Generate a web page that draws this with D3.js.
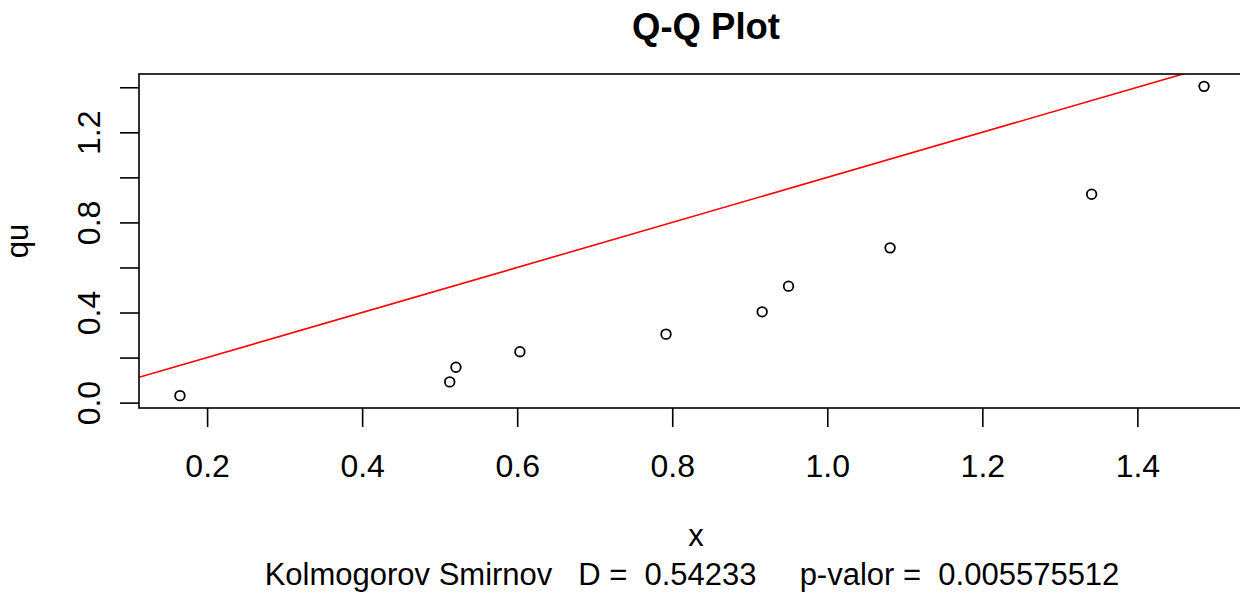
<!DOCTYPE html>
<html>
<head>
<meta charset="utf-8">
<script src="https://cdn.jsdelivr.net/npm/d3@7"></script>
<style>
  html, body { margin: 0; padding: 0; background: #fff; overflow: hidden; }
  svg { display: block; font-family: "Liberation Sans", Arial, sans-serif; }
</style>
</head>
<body>
<svg id="chart" width="1240" height="594"></svg>
<script>
// Sample quantiles (x) against theoretical quantiles (qu)
const xValues  = [0.165, 0.513, 0.521, 0.6035, 0.792, 0.916, 0.950, 1.081, 1.341, 1.486];
const quValues = [0.031, 0.092, 0.157, 0.226, 0.304, 0.403, 0.517, 0.687, 0.925, 1.404];
const xTicks = [0.2, 0.4, 0.6, 0.8, 1.0, 1.2, 1.4];
const yTicks = [0.0, 0.2, 0.4, 0.6, 0.8, 1.0, 1.2, 1.4];
const yTickLabels = [0.0, 0.4, 0.8, 1.2];
const ksD = "0.54233";
const ksP = "0.005575512";

const svg = d3.select("#chart");
const plot = { left: 139, right: 1245, top: 74, bottom: 408 };
const FONT = "Liberation Sans, Arial, sans-serif";

// R-style 4% padding around the data range
function padded(vals) {
  const [lo, hi] = d3.extent(vals);
  const r = hi - lo;
  return [lo - 0.04 * r, hi + 0.04 * r];
}

const x = d3.scaleLinear().domain(padded(xValues)).range([plot.left, plot.right]);
const y = d3.scaleLinear().domain(padded(quValues)).range([plot.bottom, plot.top]);

svg.append("defs").append("clipPath").attr("id", "plotClip")
  .append("rect")
  .attr("x", plot.left).attr("y", plot.top)
  .attr("width", plot.right - plot.left).attr("height", plot.bottom - plot.top);

// Reference line y = x
const [x0, x1] = x.domain();
svg.append("line")
  .attr("clip-path", "url(#plotClip)")
  .attr("x1", x(x0)).attr("y1", y(x0))
  .attr("x2", x(x1)).attr("y2", y(x1))
  .attr("stroke", "#ff0000").attr("stroke-width", 1.6);

// Points
svg.append("g").selectAll("circle")
  .data(xValues.map((v, i) => [v, quValues[i]]))
  .join("circle")
  .attr("cx", d => x(d[0])).attr("cy", d => y(d[1]))
  .attr("r", 4.8)
  .attr("fill", "none").attr("stroke", "#000").attr("stroke-width", 1.8);

// Plot frame
svg.append("rect")
  .attr("x", plot.left).attr("y", plot.top)
  .attr("width", plot.right - plot.left).attr("height", plot.bottom - plot.top)
  .attr("fill", "none").attr("stroke", "#000").attr("stroke-width", 1.6);

// X axis
const xAxis = d3.axisBottom(x).tickValues(xTicks).tickSize(19).tickPadding(27)
  .tickFormat(d3.format(".1f"));
const gx = svg.append("g").attr("transform", `translate(0,${plot.bottom})`).call(xAxis);
gx.select(".domain").remove();
gx.selectAll(".tick line").attr("stroke", "#000").attr("stroke-width", 1.6);
gx.selectAll(".tick text").attr("font-size", 32).attr("fill", "#000")
  .attr("font-family", FONT);

// Y axis (labels drawn rotated, R style)
const yAxis = d3.axisLeft(y).tickValues(yTicks).tickSize(19)
  .tickFormat(d => yTickLabels.some(t => Math.abs(t - d) < 1e-9) ? d3.format(".1f")(d) : "");
const gy = svg.append("g").attr("transform", `translate(${plot.left},0)`).call(yAxis);
gy.select(".domain").remove();
gy.selectAll(".tick line").attr("stroke", "#000").attr("stroke-width", 1.6);
gy.selectAll(".tick text")
  .attr("x", null).attr("dy", null)
  .attr("transform", "translate(-39,0) rotate(-90)")
  .attr("text-anchor", "middle")
  .attr("font-size", 32).attr("fill", "#000")
  .attr("font-family", FONT);

// Title
svg.append("text")
  .attr("x", 706).attr("y", 39)
  .attr("text-anchor", "middle")
  .attr("font-size", 36.5).attr("font-weight", "bold")
  .text("Q-Q Plot");

// Axis titles
svg.append("text")
  .attr("x", 696).attr("y", 546)
  .attr("text-anchor", "middle")
  .attr("font-size", 31)
  .text("x");

svg.append("text")
  .attr("transform", `translate(28,${(plot.top + plot.bottom) / 2}) rotate(-90)`)
  .attr("text-anchor", "middle")
  .attr("font-size", 31)
  .text("qu");

// Kolmogorov-Smirnov summary line
svg.append("text")
  .attr("x", 692).attr("y", 585)
  .attr("text-anchor", "middle")
  .attr("font-size", 31)
  .attr("xml:space", "preserve")
  .style("white-space", "pre")
  .text(`Kolmogorov Smirnov   D =  ${ksD}     p-valor =  ${ksP}`);
</script>
</body>
</html>
